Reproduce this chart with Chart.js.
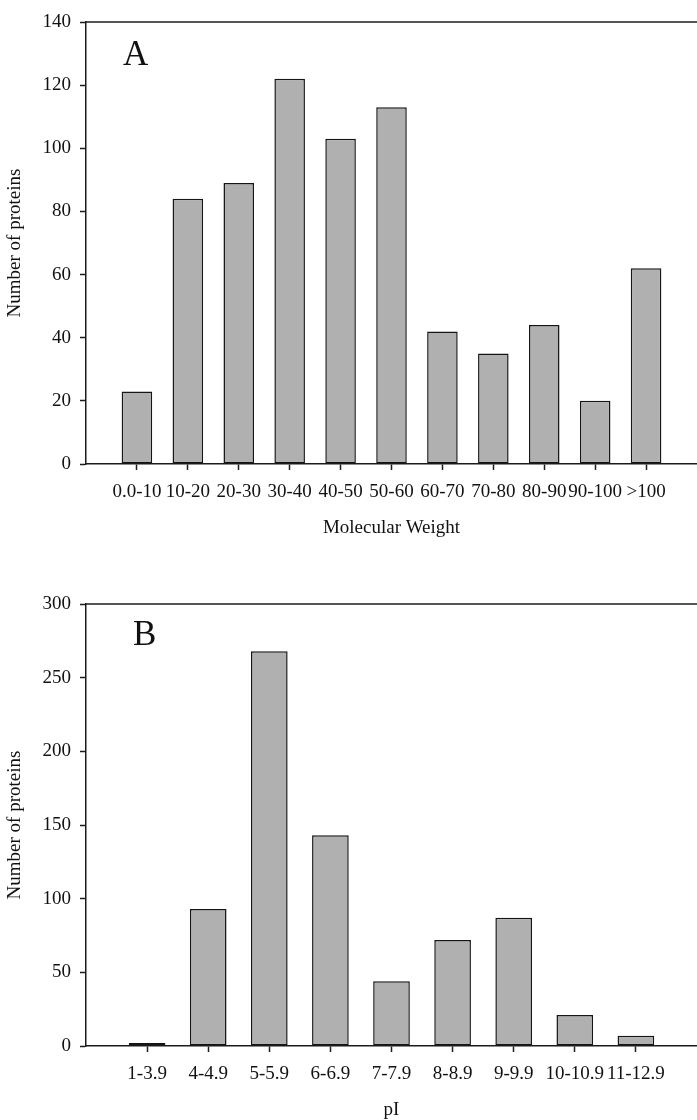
<!DOCTYPE html>
<html>
<head>
<meta charset="utf-8">
<script src="https://cdn.jsdelivr.net/npm/chart.js@4"></script>
<style>
  html, body { margin: 0; padding: 0; background: #fff; overflow: hidden; }
  .panel { position: absolute; left: 0; width: 697px; height: 560px; }
</style>
</head>
<body>
<div class="panel" style="top:0"><canvas id="mwChart"></canvas></div>
<div class="panel" style="top:582px"><canvas id="piChart"></canvas></div>
<script>
// Panel A - molecular weight distribution
const mwLabels = ["0.0-10", "10-20", "20-30", "30-40", "40-50", "50-60", "60-70", "70-80", "80-90", "90-100", ">100"];
const mwCounts = [23, 84, 89, 122, 103, 113, 42, 35, 44, 20, 62];

// Panel B - pI distribution
const piLabels = ["1-3.9", "4-4.9", "5-5.9", "6-6.9", "7-7.9", "8-8.9", "9-9.9", "10-10.9", "11-12.9"];
const piCounts = [2, 93, 268, 143, 44, 72, 87, 21, 7];

const yTitle = "Number of proteins";
const AXIS = "#1c1c1c";
const FONT = "'Liberation Serif', 'Times New Roman', serif";

// draws the top spine and the panel letter
const framePlugin = {
  id: "frame",
  afterDraw(chart, args, opts) {
    const { ctx, chartArea } = chart;
    ctx.save();
    ctx.strokeStyle = AXIS;
    ctx.lineWidth = 1.5;
    ctx.beginPath();
    ctx.moveTo(chartArea.left, chartArea.top);
    ctx.lineTo(chartArea.right, chartArea.top);
    ctx.stroke();
    ctx.font = "35px " + FONT;
    ctx.fillStyle = "#111";
    ctx.textBaseline = "alphabetic";
    ctx.fillText(opts.letter, chartArea.left + opts.dx, chartArea.top + opts.dy);
    ctx.restore();
  }
};

function makeChart(id, labels, counts, yMax, yStep, xTitle, letter, dx, dy) {
  const n = labels.length;
  return new Chart(document.getElementById(id), {
    type: "bar",
    data: {
      datasets: [{
        data: counts.map((v, i) => ({ x: i + 1, y: v })),
        backgroundColor: "#b0b0b0",
        borderColor: "#151515",
        borderWidth: 1.5,
        borderSkipped: false,
        barPercentage: 0.6,
        categoryPercentage: 1
      }]
    },
    options: {
      responsive: true,
      maintainAspectRatio: false,
      animation: false,
      layout: { padding: { top: 22, left: 0, right: 0, bottom: 0 } },
      plugins: {
        legend: { display: false },
        tooltip: { enabled: false },
        frame: { letter, dx, dy }
      },
      scales: {
        x: {
          type: "linear",
          min: 0,
          max: n + 1,
          offset: false,
          afterBuildTicks: (s) => { s.ticks = s.ticks.filter(t => t.value >= 1 && t.value <= n); },
          afterFit: (s) => { s.height = 96; },
          ticks: {
            stepSize: 1,
            autoSkip: false,
            maxRotation: 0,
            minRotation: 0,
            padding: 11,
            color: "#111",
            font: { family: FONT, size: 19 },
            callback: (v) => labels[v - 1]
          },
          grid: { offset: false, drawOnChartArea: false, drawTicks: true, tickLength: 6, tickColor: AXIS, tickWidth: 1.5 },
          border: { display: true, color: AXIS, width: 1.5 },
          title: { display: true, text: xTitle, color: "#111", font: { family: FONT, size: 19, lineHeight: 1.2 }, padding: { top: 0, bottom: 20.6 } }
        },
        y: {
          min: 0,
          max: yMax,
          afterFit: (s) => { s.width = 86; },
          ticks: { stepSize: yStep, padding: 9, color: "#111", font: { family: FONT, size: 19 } },
          grid: { drawOnChartArea: false, drawTicks: true, tickLength: 6, tickColor: AXIS, tickWidth: 1.5 },
          border: { display: true, color: AXIS, width: 1.5 },
          title: { display: true, text: yTitle, color: "#111", font: { family: FONT, size: 19, lineHeight: 1.2 }, padding: { top: 4, bottom: 0 } }
        }
      }
    },
    plugins: [framePlugin]
  });
}

makeChart("mwChart", mwLabels, mwCounts, 140, 20, "Molecular Weight", "A", 37, 43);
makeChart("piChart", piLabels, piCounts, 300, 50, "pI", "B", 47, 41);
</script>
</body>
</html>
